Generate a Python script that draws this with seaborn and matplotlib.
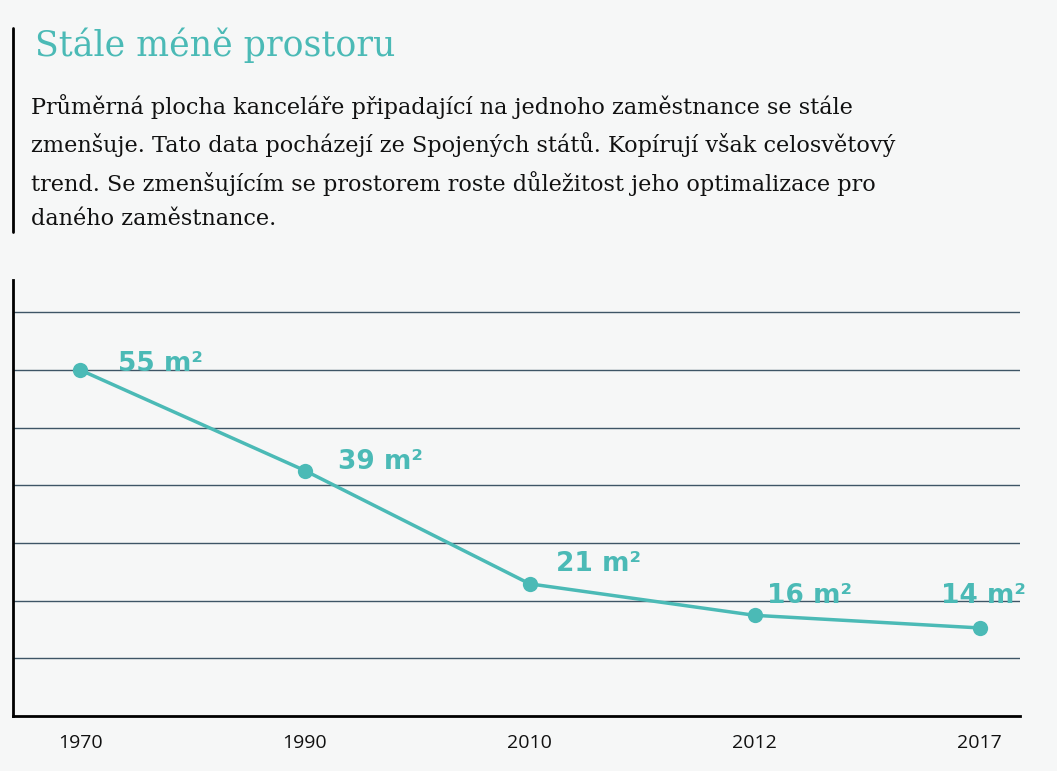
import numpy as np
import pandas as pd
import seaborn as sns
import matplotlib.pyplot as plt

years = ["1970", "1990", "2010", "2012", "2017"]
area = [55, 39, 21, 16, 14]
labels = ["55 m²", "39 m²", "21 m²", "16 m²", "14 m²"]

title = "Stále méně prostoru"
subtitle = ("Průměrná plocha kanceláře připadající na jednoho zaměstnance se stále\n"
            "zmenšuje. Tato data pocházejí ze Spojených států. Kopírují však celosvětový\n"
            "trend. Se zmenšujícím se prostorem roste důležitost jeho optimalizace pro\n"
            "daného zaměstnance.")

teal = "#4bbab6"
bg = "#f6f7f7"

df = pd.DataFrame({"year": years, "area": area})
df["pos"] = range(len(df))

sns.set_theme(style="white")
plt.rcParams["font.family"] = ["Open Sans", "DejaVu Sans"]

fig = plt.figure(figsize=(10.57, 7.71), dpi=100, facecolor=bg)
ax = fig.add_axes([0.0123, 0.0713, 0.9527, 0.5657])
ax.set_facecolor(bg)

sns.lineplot(data=df, x="pos", y="area", color=teal, linewidth=2.5,
             marker="o", markersize=11, markeredgewidth=0, ax=ax, zorder=3)

# label offsets in points (dx, dy, ha)
offs = [(27, 4, "left"), (24, 6, "left"), (19, 14, "left"), (9, 14, "left"), (3, 23, "center")]
for i, (lab, (dx, dy, ha)) in enumerate(zip(labels, offs)):
    ax.annotate(lab, (i, area[i]), xytext=(dx, dy), textcoords="offset points",
                ha=ha, va="center", fontsize=19, fontweight="bold", color=teal,
                family=["DejaVu Sans"], zorder=4)

ax.set_xlim(-0.298, 4.18)
ax.set_ylim(0, 69.3)
ax.set_yticks(np.arange(1, 8) * 55 / 6)
ax.yaxis.grid(True, color="#3e5566", linewidth=1)
ax.set_yticklabels([])
ax.tick_params(axis="y", length=0)
ax.set_xticks(range(len(years)))
ax.set_xticklabels(years, fontsize=14, color="#111111")
ax.tick_params(axis="x", length=0, pad=13)
ax.set_xlabel("")
ax.set_ylabel("")
for s in ["top", "right"]:
    ax.spines[s].set_visible(False)
for s in ["left", "bottom"]:
    ax.spines[s].set_color("black")
    ax.spines[s].set_linewidth(2)

fig.add_artist(plt.Line2D([13 / 1057, 13 / 1057], [1 - 28 / 771, 1 - 232 / 771],
                          color="black", linewidth=2))
fig.text(35 / 1057, 1 - 45 / 771, title, fontsize=25, color=teal,
         family=["DejaVu Serif"], va="center", ha="left")
fig.text(31 / 1057, 1 - 94 / 771, subtitle, fontsize=16.1, color="#111111",
         family=["DejaVu Serif"], va="top", ha="left", linespacing=1.68)

fig.savefig("out.png", dpi=100, facecolor=bg)
